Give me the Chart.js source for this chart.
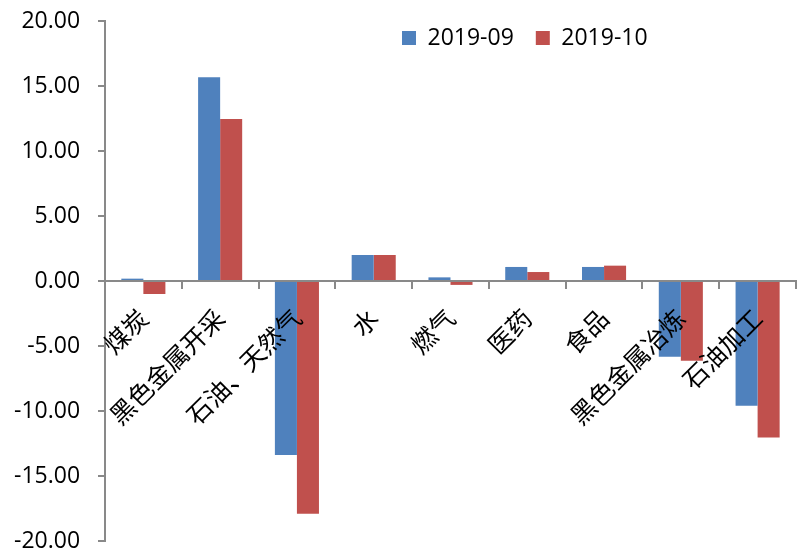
<!DOCTYPE html>
<html lang="zh">
<head>
  <meta charset="UTF-8" />
  <title>行业对比</title>
  <script src="https://cdn.jsdelivr.net/npm/chart.js"></script>
  <style>
    body { margin: 0; background: #fff; }
    #wrap { width: 801px; height: 554px; }
  </style>
</head>
<body>
<div id="wrap"><canvas id="chart"></canvas></div>
<script>
  const categories = ['煤炭', '黑色金属开采', '石油、天然气', '水', '燃气', '医药', '食品', '黑色金属冶炼', '石油加工'];
  const seriesNames = ['2019-09', '2019-10'];
  const sep = [0.18, 15.67, -13.38, 2.0, 0.28, 1.08, 1.08, -5.82, -9.59];
  const oct = [-1.0, 12.46, -17.9, 2.0, -0.3, 0.69, 1.18, -6.13, -12.03];
  const yMin = -20, yMax = 20, yStep = 5;

  const axisColor = '#898989';
  const gap = '\u00a0\u00a0\u00a0'; // room between the tick label and the tick mark

  // legend sits inside the plot like the excel one, so move it after layout
  const legendShift = {
    id: 'legendShift',
    afterLayout(chart) {
      const lg = chart.legend;
      const w = lg.width, h = lg.height;
      lg.left = 380; lg.right = lg.left + w;
      lg.top = 4.5; lg.bottom = lg.top + h;
    }
  };

  new Chart(document.getElementById('chart'), {
    type: 'bar',
    data: {
      labels: categories,
      datasets: [
        { label: seriesNames[0], data: sep, backgroundColor: '#4F81BD' },
        { label: seriesNames[1], data: oct, backgroundColor: '#C0504D' }
      ]
    },
    options: {
      responsive: true,
      maintainAspectRatio: false,
      animation: false,
      categoryPercentage: 0.574,
      barPercentage: 1,
      layout: { padding: { left: 14, right: 5, top: -34, bottom: 13 } },
      plugins: {
        tooltip: { enabled: false },
        legend: {
          position: 'top',
          align: 'start',
          labels: {
            boxWidth: 14,
            boxHeight: 14,
            padding: 22,
            color: '#000',
            font: { family: 'Open Sans', size: 23 }
          }
        }
      },
      scales: {
        x: {
          position: { y: 0 },
          grid: {
            offset: true,
            drawOnChartArea: false,
            drawTicks: true,
            tickLength: 7,
            color: axisColor,
            lineWidth: 2
          },
          border: { color: axisColor, width: 2 },
          ticks: {
            z: 1,
            autoSkip: false,
            minRotation: 45,
            maxRotation: 45,
            padding: 15,
            labelOffset: 0,
            color: '#000',
            font: { family: 'Noto Sans CJK SC', size: 25 }
          }
        },
        y: {
          min: yMin,
          max: yMax,
          grid: {
            drawOnChartArea: false,
            drawTicks: true,
            tickLength: 7,
            color: axisColor,
            lineWidth: 2
          },
          border: { color: axisColor, width: 2 },
          ticks: {
            stepSize: yStep,
            padding: 0,
            color: '#000',
            font: { family: 'Open Sans', size: 23, lineHeight: 1 },
            callback: v => v.toFixed(2) + gap
          }
        }
      }
    },
    plugins: [legendShift]
  });
</script>
</body>
</html>
